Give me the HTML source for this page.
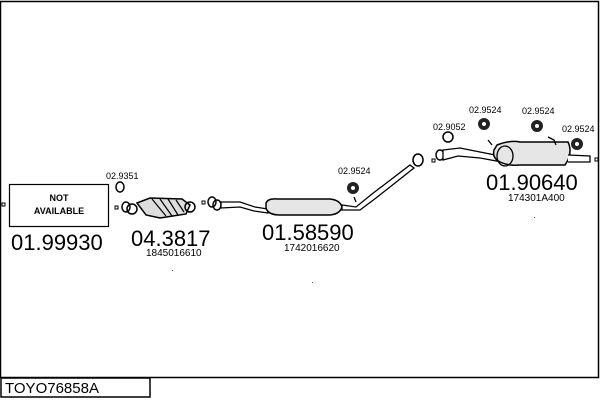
<!DOCTYPE html>
<html><head><style>
html,body{margin:0;padding:0;background:#fff;}
svg{display:block;}
text{font-family:"Liberation Sans",Arial,sans-serif;fill:#000;}
</style></head><body>
<svg width="600" height="400" viewBox="0 0 600 400" xmlns="http://www.w3.org/2000/svg">
<rect x="0" y="0" width="600" height="400" fill="#fff"/>
<!-- frame -->
<path d="M0.5 1.5 H598.5 V377.5 H0.5 Z" fill="none" stroke="#000" stroke-width="1.5"/>
<rect x="1" y="378" width="149" height="19" fill="none" stroke="#000" stroke-width="1.5"/>
<text x="5" y="393" font-size="15">TOYO76858A</text>

<!-- not available box -->
<rect x="9.5" y="184.5" width="99" height="42" fill="none" stroke="#000" stroke-width="1.2"/>
<text x="59" y="201" font-size="9" font-weight="bold" text-anchor="middle">NOT</text>
<text x="59" y="214" font-size="9" font-weight="bold" text-anchor="middle">AVAILABLE</text>
<rect x="2" y="203" width="3" height="3" fill="none" stroke="#000"/>
<text x="11" y="250" font-size="22">01.99930</text>

<!-- 02.9351 ring -->
<text x="106" y="179" font-size="9">02.9351</text>
<ellipse cx="120" cy="187" rx="4" ry="5" fill="none" stroke="#000" stroke-width="1.5"/>

<!-- catalyst -->
<rect x="115" y="206" width="3" height="3" fill="none" stroke="#000"/>
<ellipse cx="126" cy="207" rx="4" ry="5" fill="none" stroke="#000" stroke-width="1.5"/>
<ellipse cx="132" cy="209" rx="5" ry="5" fill="none" stroke="#000" stroke-width="1.5"/>
<path d="M137 203 L150 198 L182 199 L190 205 L186 214 L160 218 L146 215 Z" fill="#ddd" stroke="#000" stroke-width="1.5"/>
<path d="M152 199 L166 216 M160 199 L172 216 M168 199 L178 215 M176 200 L184 212" stroke="#000" stroke-width="1.2"/>
<ellipse cx="190" cy="207" rx="5" ry="5" fill="none" stroke="#000" stroke-width="1.5"/>
<text x="131" y="246" font-size="22">04.3817</text>
<text x="146" y="256" font-size="10">1845016610</text>
<rect x="202" y="201" width="3" height="3" fill="none" stroke="#000"/>

<!-- middle pipe & silencer -->
<ellipse cx="212" cy="202" rx="4" ry="5" fill="none" stroke="#000" stroke-width="1.5"/>
<ellipse cx="217" cy="205" rx="4" ry="5" fill="none" stroke="#000" stroke-width="1.5"/>
<path d="M221 202 L240 202 L255 207 L268 209 L268 213 L254 211 L240 207 L221 208 Z" fill="#fff" stroke="#000" stroke-width="1.3"/>
<path d="M266 203 Q268 198 278 199 L330 199 Q340 200 342 207 Q340 214 330 215 L280 215 Q268 215 266 208 Z" fill="#e6e6e6" stroke="#000" stroke-width="1.5"/>
<path d="M342 205 L356 207 L372 194 L410 165 L414 168 L376 198 L360 210 L342 210 Z" fill="#fff" stroke="#000" stroke-width="1.3"/>
<ellipse cx="418" cy="160" rx="5" ry="6" fill="none" stroke="#000" stroke-width="1.5"/>
<text x="262" y="240" font-size="22">01.58590</text>
<text x="284" y="251" font-size="10">1742016620</text>

<text x="338" y="174" font-size="9">02.9524</text>
<circle cx="353" cy="188" r="6" fill="#222"/>
<circle cx="353" cy="188" r="2" fill="#fff"/>
<path d="M354 197 L356 202" stroke="#000" stroke-width="1.3"/>

<!-- rear part -->
<rect x="432" y="159" width="3" height="3" fill="none" stroke="#000"/>
<text x="433" y="130" font-size="9">02.9052</text>
<ellipse cx="448" cy="137" rx="5" ry="5" fill="none" stroke="#000" stroke-width="1.5"/>
<ellipse cx="440" cy="155" rx="4" ry="5" fill="none" stroke="#000" stroke-width="1.5"/>
<path d="M443 150 L460 148 L480 152 L500 156 L502 162 L480 158 L458 156 L443 160 Z" fill="#fff" stroke="#000" stroke-width="1.3"/>
<path d="M497 145 Q510 140 520 142 L568 142 Q572 150 568 160 L565 165 L520 165 Q508 166 500 162 Q492 158 494 150 Z" fill="#e6e6e6" stroke="#000" stroke-width="1.5"/>
<ellipse cx="505" cy="156" rx="8" ry="10" fill="none" stroke="#000" stroke-width="1.3"/>
<path d="M568 155 L590 156 L590 162 L568 162" fill="#fff" stroke="#000" stroke-width="1.3"/>
<rect x="595" y="158" width="3" height="3" fill="none" stroke="#000"/>
<path d="M488 140 L492 145 M548 137 L554 140 L556 145" stroke="#000" stroke-width="1.3" fill="none"/>

<text x="469" y="113" font-size="9">02.9524</text>
<circle cx="484" cy="124" r="6" fill="#222"/><circle cx="484" cy="124" r="2" fill="#fff"/>
<text x="522" y="114" font-size="9">02.9524</text>
<circle cx="537" cy="126" r="6" fill="#222"/><circle cx="537" cy="126" r="2" fill="#fff"/>
<text x="562" y="132" font-size="9">02.9524</text>
<circle cx="577" cy="144" r="6" fill="#222"/><circle cx="577" cy="144" r="2" fill="#fff"/>

<text x="486" y="190" font-size="22">01.90640</text>
<text x="508" y="201" font-size="10">174301A400</text>
<rect x="534" y="217" width="1" height="1" fill="#666"/>
<rect x="172" y="270" width="1" height="1" fill="#666"/>
<rect x="312" y="282" width="1" height="1" fill="#666"/>
</svg>
</body></html>
